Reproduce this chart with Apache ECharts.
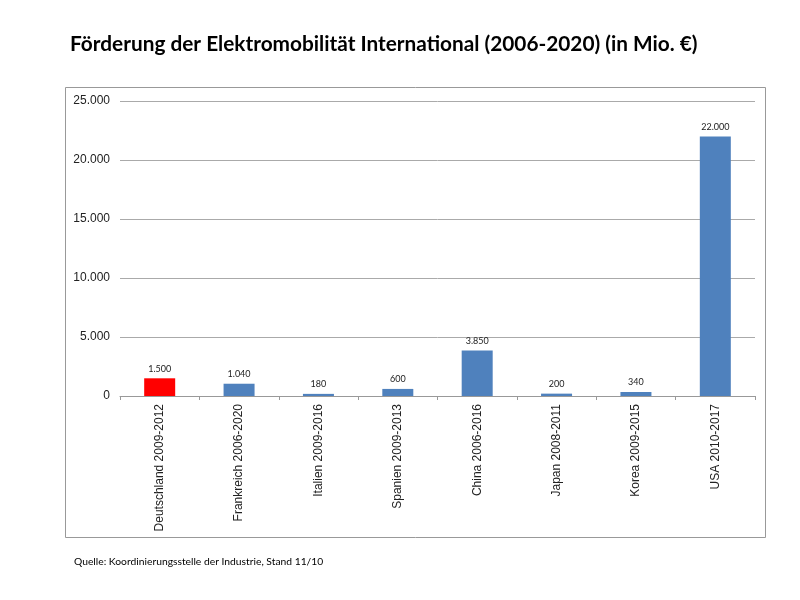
<!DOCTYPE html>
<html><head><meta charset="utf-8">
<script src="https://cdn.jsdelivr.net/npm/echarts@6/dist/echarts.min.js"></script>
<style>html,body{margin:0;padding:0;background:#fff}#c{width:800px;height:600px}</style>
</head><body><div id="c"></div>
<script>
const categories = ["Deutschland 2009-2012","Frankreich 2006-2020","Italien 2009-2016","Spanien 2009-2013","China 2006-2016","Japan 2008-2011","Korea 2009-2015","USA 2010-2017"];
const values = [1500,1040,180,600,3850,200,340,22000];
const barColors = ["#FF0000","#4F81BD","#4F81BD","#4F81BD","#4F81BD","#4F81BD","#4F81BD","#4F81BD"];
const yTicks = [0,5000,10000,15000,20000,25000];

const fmt = v => String(v).replace(/\B(?=(\d{3})+(?!\d))/g, ".");
const font = "'Liberation Sans', Arial, sans-serif";
const chart = echarts.init(document.getElementById('c'), null, {renderer:'canvas'});
chart.setOption({
  animation:false,
  backgroundColor:'#fff',
  title:{text:"Förderung der Elektromobilität International (2006-2020) (in Mio. €)", left:65, top:29,
    textStyle:{fontFamily:"Lato, sans-serif", fontWeight:'bold', fontSize:20.8, color:'#000'}},
  graphic:[
    {type:'rect', shape:{x:65.5,y:87.5,width:700,height:450}, style:{fill:'none', stroke:'#999', lineWidth:1}, z:-1},
    {type:'text', left:74, top:557, style:{text:"Quelle: Koordinierungsstelle der Industrie, Stand 11/10", font:"10.3px Lato, sans-serif", fill:'#000'}}
  ],
  grid:{left:120, right:45, top:101, bottom:204, containLabel:false},
  xAxis:{type:'category', data:categories,
    axisLine:{lineStyle:{color:'#999'}},
    axisTick:{show:true, length:4, lineStyle:{color:'#999'}},
    axisLabel:{rotate:90, color:'#222', fontSize:12, fontFamily:font, margin:8}},
  yAxis:{type:'value', min:yTicks[0], max:yTicks[yTicks.length-1], interval:5000,
    axisLine:{show:false}, axisTick:{show:false},
    splitLine:{lineStyle:{color:'#aaa'}},
    axisLabel:{color:'#222', fontSize:12, fontFamily:font, margin:10, formatter:v=>fmt(v)}},
  series:[{type:'bar', barWidth:31,
    data: values.map((v,i)=>({value:v, itemStyle:{color:barColors[i]}})),
    label:{show:true, position:'top', distance:5, fontSize:9, fontFamily:"Lato, sans-serif", color:'#222', formatter:p=>fmt(p.value)}}]
});
</script></body></html>
